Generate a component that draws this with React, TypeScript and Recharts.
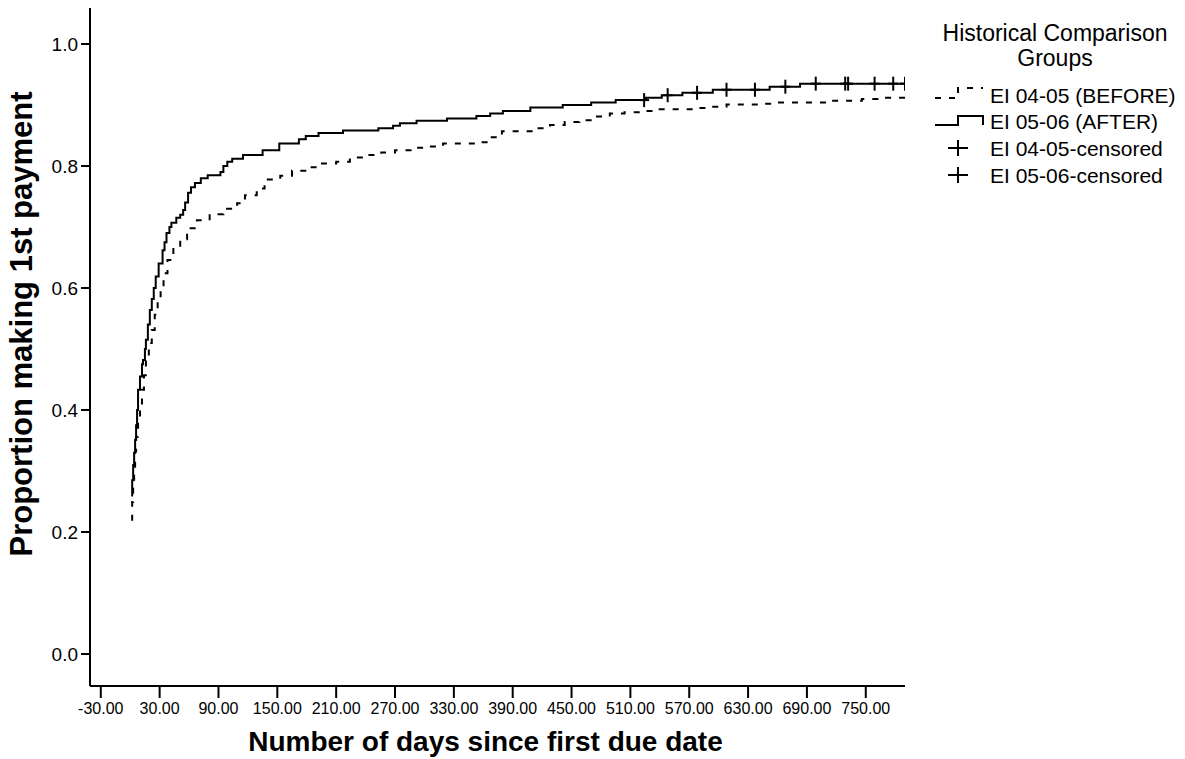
import React from "react";
import { ComposedChart, Line, Scatter, XAxis, YAxis, Legend } from "recharts";

const FONT = '"Liberation Sans", Arial, Helvetica, sans-serif';

// Kaplan-Meier style step points (day -> proportion)
const beforeDays = [
  1, 2, 3, 4, 5, 6, 8, 10, 12, 14, 16, 19, 22, 25, 28, 31, 34, 38, 44, 51,
  58, 68, 81, 95, 109, 117, 129, 137, 153, 165, 180, 193, 210, 224, 239, 256,
  270, 287, 304, 319, 353, 367, 379, 413, 428, 443, 458, 474, 489, 504, 523,
  538, 574, 591, 608, 642, 659, 711, 746, 762, 790,
];
const beforeProp = [
  0.22, 0.249, 0.277, 0.305, 0.332, 0.356, 0.381, 0.405, 0.433, 0.457, 0.482,
  0.51, 0.531, 0.556, 0.575, 0.602, 0.624, 0.646, 0.664, 0.68, 0.698, 0.711,
  0.721, 0.73, 0.739, 0.752, 0.763, 0.778, 0.784, 0.792, 0.798, 0.804, 0.807,
  0.814, 0.818, 0.822, 0.826, 0.83, 0.832, 0.837, 0.839, 0.847, 0.857, 0.862,
  0.867, 0.872, 0.875, 0.881, 0.886, 0.888, 0.89, 0.893, 0.895, 0.897, 0.901,
  0.902, 0.904, 0.907, 0.91, 0.912, 0.912,
];

const afterDays = [
  1, 2, 3, 4, 5, 6, 7, 8, 10, 12, 13, 15, 16, 18, 20, 22, 24, 26, 29, 33, 35,
  37, 40, 42, 47, 51, 54, 56, 59, 62, 66, 72, 79, 92, 95, 99, 104, 115, 135,
  152, 172, 179, 192, 217, 253, 268, 275, 292, 323, 353, 367, 380, 408, 441,
  470, 495, 526, 542, 563, 594, 652, 683, 790,
];
const afterProp = [
  0.26, 0.285, 0.31, 0.33, 0.351, 0.375, 0.4, 0.433, 0.455, 0.475, 0.482, 0.5,
  0.515, 0.54, 0.564, 0.582, 0.6, 0.619, 0.64, 0.662, 0.675, 0.69, 0.7, 0.707,
  0.715, 0.72, 0.728, 0.74, 0.756, 0.765, 0.772, 0.78, 0.785, 0.79, 0.8, 0.807,
  0.812, 0.818, 0.826, 0.837, 0.844, 0.849, 0.854, 0.858, 0.862, 0.866, 0.87,
  0.874, 0.878, 0.882, 0.886, 0.89, 0.896, 0.9, 0.904, 0.908, 0.912, 0.916,
  0.92, 0.925, 0.93, 0.935, 0.935,
];

const afterCensoredDays = [524, 548, 578, 608, 637, 668, 699, 729, 732, 759, 778, 790];
const afterCensoredProp = [
  0.908, 0.916, 0.92, 0.925, 0.925, 0.93, 0.935, 0.935, 0.935, 0.935, 0.935, 0.935,
];

const xTicks = [-30, 30, 90, 150, 210, 270, 330, 390, 450, 510, 570, 630, 690, 750];
const yTicks = [0, 0.2, 0.4, 0.6, 0.8, 1.0];

const legendTitle = ["Historical Comparison", "Groups"];
const legendLabels = [
  "EI 04-05 (BEFORE)",
  "EI 05-06 (AFTER)",
  "EI 04-05-censored",
  "EI 05-06-censored",
];

const beforeData = beforeDays.map((d, i) => ({ day: d, v: beforeProp[i] }));
const afterData = afterDays.map((d, i) => ({ day: d, v: afterProp[i] }));
const censoredData = afterCensoredDays.map((d, i) => ({ day: d, v: afterCensoredProp[i] }));

const Cross = (props: any) => {
  const { cx, cy } = props;
  if (cx == null || cy == null) return null;
  return (
    <g stroke="#000" strokeWidth={2}>
      <line x1={cx - 5} x2={cx + 5} y1={cy} y2={cy} />
      <line x1={cx} x2={cx} y1={cy - 7} y2={cy + 7} />
    </g>
  );
};

const LegendBox = () => (
  <svg width={265} height={190} style={{ display: "block" }}>
    <g fontFamily={FONT} fill="#000">
      <text x={135} y={31} fontSize={23} textAnchor="middle">{legendTitle[0]}</text>
      <text x={135} y={56} fontSize={23} textAnchor="middle">{legendTitle[1]}</text>
      {legendLabels.map((t, i) => (
        <text key={t} x={70} y={[92.5, 119, 145.5, 172.5][i]} fontSize={21}>{t}</text>
      ))}
    </g>
    <path d="M15 88 H38 V78 H63" fill="none" stroke="#000" strokeWidth={2} strokeDasharray="6 8" />
    <path d="M15 115 H38 V106 H63 V115" fill="none" stroke="#000" strokeWidth={2} />
    <g stroke="#000" strokeWidth={2}>
      <line x1={28} x2={48} y1={138} y2={138} />
      <line x1={38} x2={38} y1={130} y2={146} />
      <line x1={28} x2={48} y1={165} y2={165} />
      <line x1={38} x2={38} y1={157} y2={173} />
    </g>
  </svg>
);

const XTitle = (props: any) => {
  const vb = props.viewBox || {};
  return (
    <text x={vb.x + vb.width / 2 - 12} y={vb.y + 65} textAnchor="middle"
      fontFamily={FONT} fontWeight="bold" fontSize={28} fill="#000">
      Number of days since first due date
    </text>
  );
};

const YTitle = (props: any) => {
  const vb = props.viewBox || {};
  const cx = 32;
  const cy = vb.y + vb.height / 2 - 23;
  return (
    <text x={cx} y={cy} transform={`rotate(-90 ${cx} ${cy})`} textAnchor="middle"
      fontFamily={FONT} fontWeight="bold" fontSize={31} fill="#000">
      Proportion making 1st payment
    </text>
  );
};

const axisStroke = { stroke: "#000", strokeWidth: 2 };

export default function App() {
  return (
    <div style={{ position: "absolute", left: 0, top: 0, background: "#fff" }}>
      <ComposedChart width={1185} height={759} margin={{ top: 8, right: 280, bottom: 0, left: 30 }}>
        <XAxis
          type="number"
          dataKey="day"
          domain={[-41, 790]}
          allowDataOverflow
          ticks={xTicks}
          interval={0}
          tickFormatter={(v: number) => v.toFixed(2)}
          height={73}
          tickSize={12}
          tickMargin={5}
          axisLine={axisStroke}
          tickLine={axisStroke}
          tick={{ fill: "#000", fontSize: 16, fontFamily: FONT }}
          label={XTitle}
        />
        <XAxis xAxisId="top" orientation="top" type="number" domain={[-41, 790]}
          allowDataOverflow height={0} tick={false} tickLine={false} axisLine={axisStroke} />
        <YAxis
          type="number"
          domain={[-0.0525, 1.059]}
          allowDataOverflow
          ticks={yTicks}
          interval={0}
          tickFormatter={(v: number) => v.toFixed(1)}
          width={60}
          tickSize={9}
          tickMargin={3}
          axisLine={axisStroke}
          tickLine={axisStroke}
          tick={{ fill: "#000", fontSize: 19, fontFamily: FONT }}
          label={YTitle}
        />
        <YAxis yAxisId="right" orientation="right" type="number" domain={[-0.0525, 1.059]}
          allowDataOverflow width={0} tick={false} tickLine={false} axisLine={axisStroke} />
        <Legend
          layout="horizontal"
          verticalAlign="middle"
          align="center"
          wrapperStyle={{ position: "absolute", left: 920, top: 10, width: 265, height: 190 }}
          content={() => <LegendBox />}
        />
        <Line data={beforeData} dataKey="v" type="stepAfter" stroke="#000" strokeWidth={2}
          strokeDasharray="6 8" dot={false} activeDot={false} isAnimationActive={false} />
        <Line data={afterData} dataKey="v" type="stepAfter" stroke="#000" strokeWidth={2}
          dot={false} activeDot={false} isAnimationActive={false} />
        <Scatter data={censoredData} dataKey="v" shape={<Cross />} isAnimationActive={false} />
      </ComposedChart>
    </div>
  );
}
